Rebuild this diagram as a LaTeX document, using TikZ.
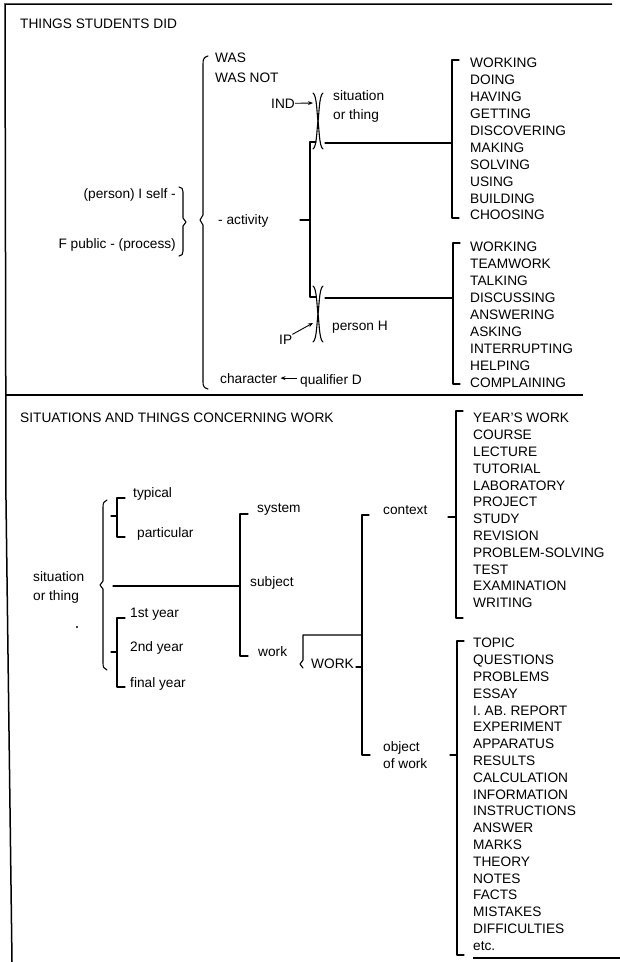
\documentclass[tikz,border=0pt]{standalone}
\usepackage{fontspec}
\setmainfont{Liberation Sans}
\usetikzlibrary{arrows.meta}

\begin{document}
\begin{tikzpicture}[x=1pt,y=-1pt,
  lbl/.style={anchor=base west, inner sep=0pt, font=\fontsize{13.7}{16}\selectfont},
  lblr/.style={lbl, anchor=base east},
  brk/.style={line width=1.1pt, line join=round, line cap=round},
  rule/.style={line width=1.5pt},
  ptr/.style={-{Stealth[length=5pt,width=4pt]}, line width=0.9pt},
  pinch/.pic={
    \draw[brk] (-5,-28) .. controls (-1,-26) and (-1,-4) .. (0,0)
                        .. controls (-1,4) and (-1,26) .. (-5,28);
    \draw[brk] (5,-28) .. controls (1,-26) and (1,-4) .. (0,0)
                        .. controls (1,4) and (1,26) .. (5,28);
  }]
\useasboundingbox (0,0) rectangle (620,962);

% frame and section rules
\draw[rule] (612,4) -- (5,4) -- (6,500) -- (12,962);
\draw[rule] (5,395) -- (583,395);
\draw[rule] (473,958) -- (620,958);

% ---------------- upper section ----------------
\node[lbl] (t1) at (20,28) {THINGS STUDENTS DID};

% main brace
\draw[brk] (208,56) .. controls (204,57) and (203,59) .. (203,64) -- (203,215)
  -- (200,220) -- (203,225) -- (203,382) .. controls (203,386) and (204,388) .. (208,389);
\node[lbl] (was) at (215,62) {WAS};
\node[lbl] (wasnot) at (215,82) {WAS NOT};
\node[lbl] (act) at (218,224) {- activity};
\node[lbl] (char) at (220,383) {character};
\node[lbl] (qual) at (300,384) {qualifier D};
\draw[ptr, shorten >=3pt, shorten <=3pt] (qual.west |- char.east) -- (char.east);

% person / public brace
\node[lblr] (self) at (176,198) {(person) I self -};
\node[lblr] (public) at (176,248) {F public - (process)};
\draw[brk] (179,187) .. controls (182,187) and (183,189) .. (183,192) -- (183,218)
  -- (186,222) -- (183,226) -- (183,251) .. controls (183,254) and (182,256) .. (179,256);

% activity bracket
\draw[brk] (316,142) -- (310,142) -- (310,297) -- (316,297);
\draw[brk] (300,220) -- (310,220);

% situation or thing (IND)
\node[lbl] (ind) at (271,108) {IND};
\coordinate (indtip) at (313,103);
\draw[ptr] (ind.east) -- (indtip);
\pic at (318,121) {pinch};
\node[lbl] (sit) at (333,100) {situation};
\node[lbl] (sit2) at (333,119) {or thing};
\coordinate (l1j) at (452,143);
\draw[brk] (325,143) -- (l1j);
\draw[brk] (459,60) -- (452,60) -- (452,218) -- (459,218);
\foreach \w [count=\i from 0] in {WORKING,DOING,HAVING,GETTING,DISCOVERING,MAKING,SOLVING,USING,BUILDING,CHOOSING}
  \node[lbl] (la\i) at (470,{63+16.9*\i+4.8}) {\w};

% person H (IP)
\pic at (318,314) {pinch};
\node[lbl] (ip) at (279,344) {IP};
\coordinate (iptip) at (313,323);
\draw[ptr] (ip.north east) -- (iptip);
\node[lbl] (pers) at (332,330) {person H};
\coordinate (l2j) at (453,298);
\draw[brk] (325,298) -- (l2j);
\draw[brk] (460,243) -- (453,243) -- (453,384) -- (460,384);
\foreach \w [count=\i from 0] in {WORKING,TEAMWORK,TALKING,DISCUSSING,ANSWERING,ASKING,INTERRUPTING,HELPING,COMPLAINING}
  \node[lbl] (lb\i) at (470,{247+16.9*\i+4.8}) {\w};

% ---------------- lower section ----------------
\node[lbl] (t2) at (20,422) {SITUATIONS AND THINGS CONCERNING WORK};

\node[lbl] (st) at (33,581) {situation};
\node[lbl] (st2) at (33,600) {or thing};
\fill (77,627) circle (1.2);
\draw[brk] (107,500) .. controls (104,501) and (103,503) .. (103,507) -- (103,581)
  -- (100,585) -- (103,589) -- (103,663) .. controls (103,667) and (104,669) .. (107,670);

% typical / particular
\draw[brk] (125,498) -- (117,498) -- (117,537) -- (125,537);
\draw[brk] (111,516) -- (117,516);
\node[lbl] (typ) at (133,497) {typical};
\node[lbl] (part) at (137,537) {particular};

% years
\draw[brk] (125,618) -- (117,618) -- (117,687) -- (125,687);
\draw[brk] (111,652) -- (117,652);
\node[lbl] (y1) at (130,617) {1st year};
\node[lbl] (y2) at (130,651) {2nd year};
\node[lbl] (y3) at (130,687) {final year};

% system / subject / work
\coordinate (sj) at (240,586);
\draw[brk] (113,586) -- (sj);
\draw[brk] (248,514) -- (240,514) -- (240,656) -- (248,656);
\node[lbl] (sys) at (257,512) {system};
\node[lbl] (subj) at (250,586) {subject};
\node[lbl] (work) at (258,656) {work};

% WORK
\draw[brk] (362,635) -- (303,635) -- (303,660) -- (300,664) -- (303,668);
\node[lbl] (WORK) at (311,668) {WORK};
\draw[brk] (356,667) -- (362,667);

% context / object of work
\draw[brk] (369,515) -- (362,515) -- (362,755) -- (370,755);
\node[lbl] (ctx) at (383,514) {context};
\node[lbl] (obj) at (383,751) {object};
\node[lbl] (obj2) at (383,768) {of work};

\draw[brk] (463,411) -- (456,411) -- (456,618) -- (463,618);
\draw[brk] (448,517) -- (456,517);
\foreach \w [count=\i from 0] in {YEAR'S WORK,COURSE,LECTURE,TUTORIAL,LABORATORY,PROJECT,STUDY,REVISION,PROBLEM-SOLVING,TEST,EXAMINATION,WRITING}
  \node[lbl] (lc\i) at (473,{418+16.8*\i+4.8}) {\w};

\draw[brk] (464,641) -- (457,641) -- (457,955) -- (464,955);
\draw[brk] (450,755) -- (457,755);
\foreach \w [count=\i from 0] in {TOPIC,QUESTIONS,PROBLEMS,ESSAY,I. AB. REPORT,EXPERIMENT,APPARATUS,RESULTS,CALCULATION,INFORMATION,INSTRUCTIONS,ANSWER,MARKS,THEORY,NOTES,FACTS,MISTAKES,DIFFICULTIES,etc.}
  \node[lbl] (lo\i) at (473,{643+16.8*\i+4.8}) {\w};
\end{tikzpicture}
\end{document}
